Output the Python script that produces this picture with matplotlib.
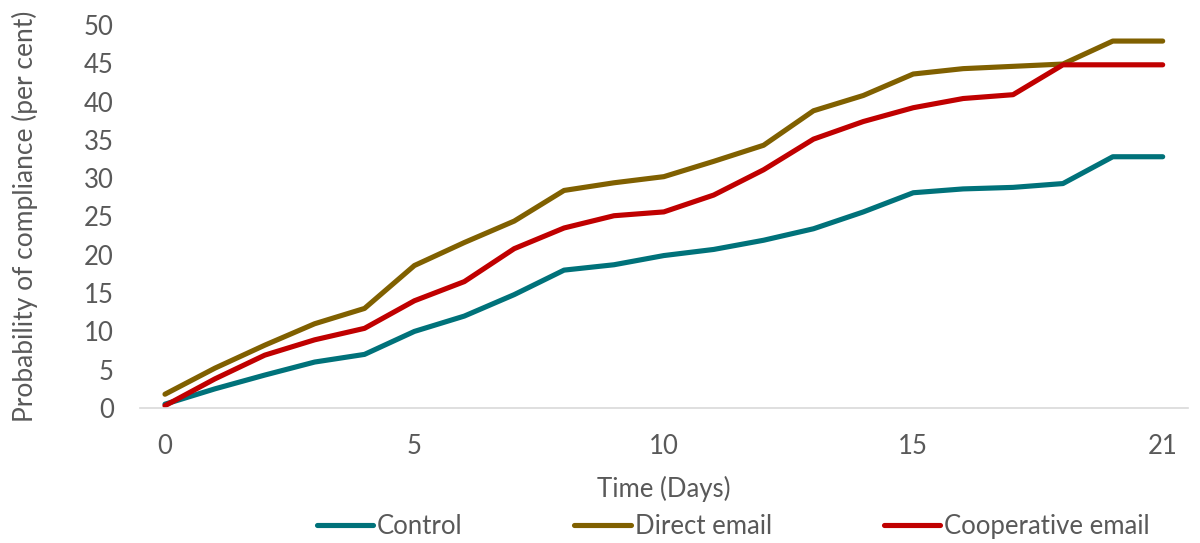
import numpy as np
import matplotlib.pyplot as plt

# days shown on the category axis (0..19, then 21)
days = list(range(20)) + [21]
tick_idx = [0, 5, 10, 15, 20]
tick_labels = ['0', '5', '10', '15', '21']

control = [0.5, 2.5, 4.3, 6.0, 7.0, 10.0, 12.0, 14.8, 18.0, 18.7, 19.9,
           20.7, 21.9, 23.4, 25.6, 28.1, 28.6, 28.8, 29.3, 32.8, 32.8]
direct = [1.8, 5.2, 8.2, 11.0, 13.0, 18.6, 21.6, 24.4, 28.4, 29.4, 30.2,
          32.2, 34.3, 38.8, 40.8, 43.6, 44.3, 44.6, 44.9, 47.9, 47.9]
coop = [0.3, 3.8, 6.9, 8.9, 10.4, 14.0, 16.5, 20.8, 23.5, 25.1, 25.6,
        27.8, 31.1, 35.1, 37.4, 39.2, 40.4, 40.9, 44.8, 44.8, 44.8]

plt.rcParams['font.family'] = ['Lato', 'DejaVu Sans']
grey = '#595959'

fig = plt.figure(figsize=(12, 5.43), dpi=100)
ax = fig.add_axes([0.1167, 0.2486, 0.873, 0.7054])

x = np.arange(len(days))
ax.plot(x, control, color='#00727A', lw=3.7, label='Control', solid_capstyle='round')
ax.plot(x, direct, color='#806000', lw=3.7, label='Direct email', solid_capstyle='round')
ax.plot(x, coop, color='#C00000', lw=3.7, label='Cooperative email', solid_capstyle='round')

ax.set_xlim(-0.5, len(days) - 0.5)
ax.set_ylim(0, 50)
ax.set_yticks(range(0, 51, 5))
ax.set_xticks(tick_idx)
ax.set_xticklabels(tick_labels)
ax.tick_params(length=0, labelsize=18.5, colors=grey)
ax.tick_params(axis='x', pad=19)
ax.tick_params(axis='y', pad=19)
for s in ['top', 'right', 'left']:
    ax.spines[s].set_visible(False)
ax.spines['bottom'].set_color('#D9D9D9')
ax.spines['bottom'].set_linewidth(1.2)

ax.set_xlabel('Time (Days)', fontsize=18.5, color=grey, labelpad=12)
ax.set_ylabel('Probability of compliance (per cent)', fontsize=19, color=grey)
ax.yaxis.set_label_coords(-0.097, 0.5)

fig.legend(loc='center', bbox_to_anchor=(0.611, 0.0295), ncol=3, frameon=False,
           fontsize=18.5, handlelength=2.2, handletextpad=0.15, columnspacing=4.35,
           labelcolor=grey)

fig.savefig('out.png', dpi=100)
